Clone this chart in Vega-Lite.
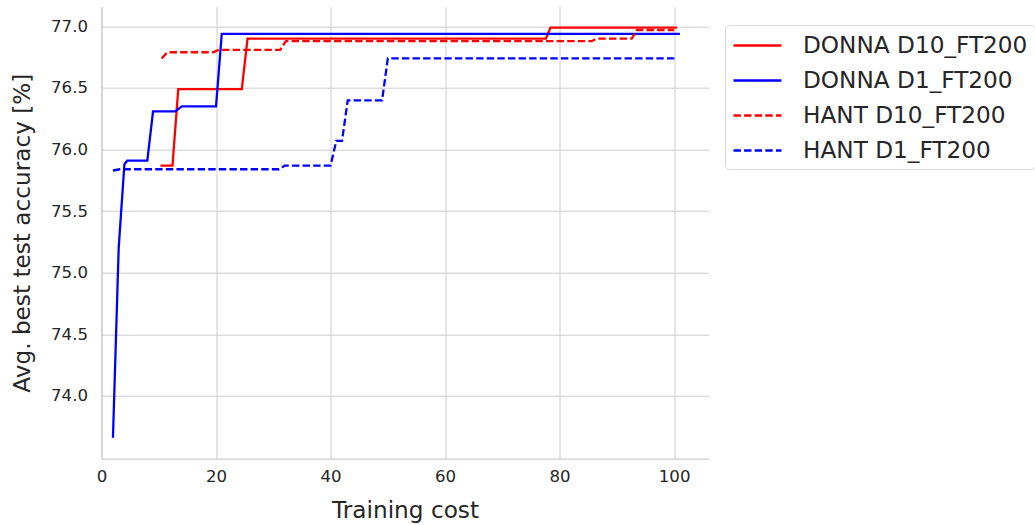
{
  "$schema": "https://vega.github.io/schema/vega-lite/v6.json",
  "width": 607,
  "height": 452,
  "autosize": "none",
  "padding": {"left": 101.5, "top": 6.7, "right": 326.5, "bottom": 66.3},
  "background": "white",
  "config": {
    "view": {"stroke": null},
    "font": "DejaVu Sans",
    "axis": {
      "domainColor": "#cccccc",
      "domainWidth": 1.25,
      "ticks": false,
      "grid": true,
      "gridColor": "#cccccc",
      "gridWidth": 1,
      "labelFont": "DejaVu Sans",
      "labelFontSize": 16.6,
      "labelColor": "#262626",
      "labelFlush": false,
      "titleFont": "DejaVu Sans",
      "titleFontSize": 23.2,
      "titleFontWeight": "normal",
      "titleColor": "#262626"
    }
  },
  "data": {
    "values": [
      {"series": "DONNA D10_FT200", "cost": 10.3, "acc": 75.87},
      {"series": "DONNA D10_FT200", "cost": 12.4, "acc": 75.87},
      {"series": "DONNA D10_FT200", "cost": 13.4, "acc": 76.49},
      {"series": "DONNA D10_FT200", "cost": 24.5, "acc": 76.49},
      {"series": "DONNA D10_FT200", "cost": 25.5, "acc": 76.9},
      {"series": "DONNA D10_FT200", "cost": 77.6, "acc": 76.9},
      {"series": "DONNA D10_FT200", "cost": 78.4, "acc": 76.99},
      {"series": "DONNA D10_FT200", "cost": 100.5, "acc": 76.99},

      {"series": "DONNA D1_FT200", "cost": 2.0, "acc": 73.66},
      {"series": "DONNA D1_FT200", "cost": 3.0, "acc": 75.2},
      {"series": "DONNA D1_FT200", "cost": 4.0, "acc": 75.88},
      {"series": "DONNA D1_FT200", "cost": 4.5, "acc": 75.91},
      {"series": "DONNA D1_FT200", "cost": 8.0, "acc": 75.91},
      {"series": "DONNA D1_FT200", "cost": 9.0, "acc": 76.31},
      {"series": "DONNA D1_FT200", "cost": 12.9, "acc": 76.31},
      {"series": "DONNA D1_FT200", "cost": 14.0, "acc": 76.35},
      {"series": "DONNA D1_FT200", "cost": 20.0, "acc": 76.35},
      {"series": "DONNA D1_FT200", "cost": 21.0, "acc": 76.94},
      {"series": "DONNA D1_FT200", "cost": 101.0, "acc": 76.94},

      {"series": "HANT D10_FT200", "cost": 10.5, "acc": 76.74},
      {"series": "HANT D10_FT200", "cost": 11.5, "acc": 76.79},
      {"series": "HANT D10_FT200", "cost": 19.5, "acc": 76.79},
      {"series": "HANT D10_FT200", "cost": 20.5, "acc": 76.81},
      {"series": "HANT D10_FT200", "cost": 31.2, "acc": 76.81},
      {"series": "HANT D10_FT200", "cost": 32.2, "acc": 76.88},
      {"series": "HANT D10_FT200", "cost": 85.6, "acc": 76.88},
      {"series": "HANT D10_FT200", "cost": 86.4, "acc": 76.9},
      {"series": "HANT D10_FT200", "cost": 92.6, "acc": 76.9},
      {"series": "HANT D10_FT200", "cost": 93.5, "acc": 76.97},
      {"series": "HANT D10_FT200", "cost": 100.0, "acc": 76.97},

      {"series": "HANT D1_FT200", "cost": 2.0, "acc": 75.83},
      {"series": "HANT D1_FT200", "cost": 3.2, "acc": 75.84},
      {"series": "HANT D1_FT200", "cost": 31.0, "acc": 75.84},
      {"series": "HANT D1_FT200", "cost": 32.0, "acc": 75.87},
      {"series": "HANT D1_FT200", "cost": 40.0, "acc": 75.87},
      {"series": "HANT D1_FT200", "cost": 41.0, "acc": 76.07},
      {"series": "HANT D1_FT200", "cost": 42.0, "acc": 76.07},
      {"series": "HANT D1_FT200", "cost": 43.0, "acc": 76.4},
      {"series": "HANT D1_FT200", "cost": 49.0, "acc": 76.4},
      {"series": "HANT D1_FT200", "cost": 50.0, "acc": 76.74},
      {"series": "HANT D1_FT200", "cost": 100.5, "acc": 76.74}
    ]
  },
  "mark": {"type": "line", "strokeWidth": 2.3},
  "encoding": {
    "x": {
      "field": "cost",
      "type": "quantitative",
      "scale": {"domain": [0, 106], "nice": false, "zero": false},
      "axis": {"values": [0, 20, 40, 60, 80, 100], "title": "Training cost", "labelPadding": 10, "titlePadding": 14}
    },
    "y": {
      "field": "acc",
      "type": "quantitative",
      "scale": {"domain": [73.49, 77.16], "nice": false, "zero": false},
      "axis": {"values": [74.0, 74.5, 75.0, 75.5, 76.0, 76.5, 77.0], "format": ".1f", "title": "Avg. best test accuracy [%]", "labelPadding": 14, "titlePadding": 16}
    },
    "color": {
      "field": "series",
      "type": "nominal",
      "scale": {
        "domain": ["DONNA D10_FT200", "DONNA D1_FT200", "HANT D10_FT200", "HANT D1_FT200"],
        "range": ["#ff0000", "#0000ff", "#ff0000", "#0000ff"]
      },
      "legend": {
        "title": null,
        "orient": "none",
        "legendX": 623.5,
        "legendY": 18.3,
        "symbolType": "M-1,0H3",
        "symbolSize": 576,
        "symbolStrokeWidth": 2.3,
        "labelFontSize": 23.2,
        "labelColor": "#262626",
        "labelFont": "DejaVu Sans",
        "labelOffset": 44,
        "labelLimit": 0,
        "rowPadding": 10,
        "padding": 7,
        "strokeColor": "#d9d9d9",
        "fillColor": "white",
        "cornerRadius": 4
      }
    },
    "strokeDash": {
      "field": "series",
      "type": "nominal",
      "scale": {
        "domain": ["DONNA D10_FT200", "DONNA D1_FT200", "HANT D10_FT200", "HANT D1_FT200"],
        "range": [[1, 0], [1, 0], [7.4, 3.2], [7.4, 3.2]]
      },
      "legend": {
        "title": null,
        "orient": "none",
        "legendX": 623.5,
        "legendY": 18.3,
        "symbolType": "M-1,0H3",
        "symbolSize": 576,
        "symbolStrokeWidth": 2.3,
        "labelFontSize": 23.2,
        "labelColor": "#262626",
        "labelFont": "DejaVu Sans",
        "labelOffset": 44,
        "labelLimit": 0,
        "rowPadding": 10,
        "padding": 7,
        "strokeColor": "#d9d9d9",
        "fillColor": "white",
        "cornerRadius": 4
      }
    }
  }
}
